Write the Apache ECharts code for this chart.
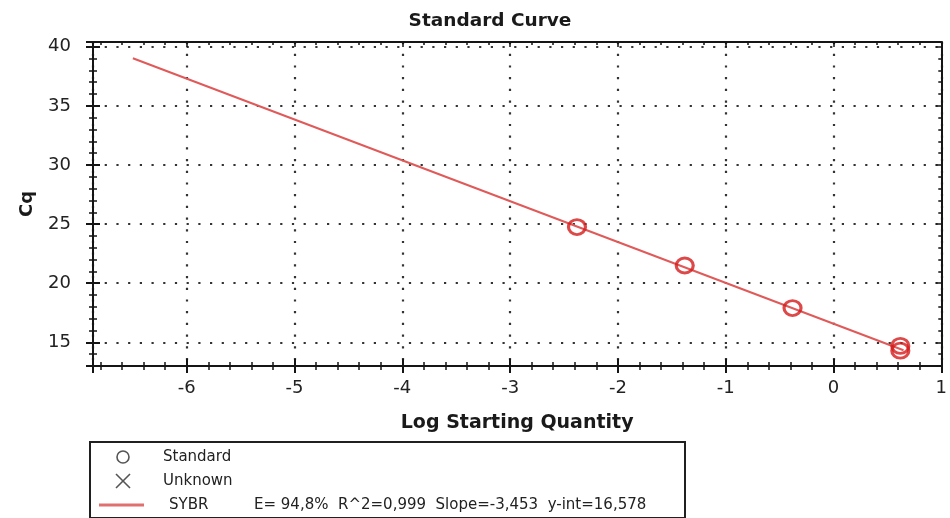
<!DOCTYPE html>
<html>
<head>
<meta charset="utf-8">
<title>Standard Curve</title>
<script src="https://cdn.jsdelivr.net/npm/echarts@6/dist/echarts.min.js"></script>
<style>
  html, body { margin: 0; padding: 0; background: #ffffff; }
  #chart { width: 950px; height: 518px; }
</style>
</head>
<body>
<div id="chart"></div>
<script>
// Standards: log starting quantity vs. Cq
const stdLogQty = [-2.38, -1.38, -0.38, 0.62, 0.62];
const stdCq = [24.75, 21.5, 17.9, 14.7, 14.3];

// Fit parameters of the SYBR standard curve
const fitSlope = -3.453;
const fitIntercept = 16.578;
const fitEfficiency = '94,8';
const fitR2 = '0,999';
const fitXRange = [-6.5, 0.65];

// Axis extents
const xRange = [-6.87, 1];
const yRange = [13, 40.4];

const fitLine = fitXRange.map(x => [x, fitIntercept + fitSlope * x]);
const stdPoints = stdLogQty.map((x, i) => [x, stdCq[i]]);

const FONT = 'DejaVu Sans';
const AXIS_COLOR = '#151515';
const RED = '#d41c1c';

const isWhole = v => Math.abs(v - Math.round(v)) < 1e-6;

function baseAxis(range, split) {
  return {
    type: 'value',
    min: range[0],
    max: range[1],
    splitNumber: split,
    axisLine: { show: false, onZero: false },
    axisTick: { show: false },
    minorTick: { show: false },
    axisLabel: { show: false },
    splitLine: { show: false },
    minorSplitLine: { show: false }
  };
}

const frameLine = { show: true, onZero: false, lineStyle: { color: AXIS_COLOR, width: 2 } };
const tickLine = { color: AXIS_COLOR, width: 2 };
const minorLine = { color: AXIS_COLOR, width: 1.5 };
const dotted = { color: '#333333', width: 2.2, type: [2.2, 9.5] };

const chart = echarts.init(document.getElementById('chart'), null, { renderer: 'canvas' });

chart.setOption({
  animation: false,
  backgroundColor: '#ffffff',
  title: {
    text: 'Standard Curve',
    left: 485,
    top: 7,
    textAlign: 'center',
    textStyle: { fontFamily: FONT, fontWeight: 'bold', fontSize: 18.5, color: '#1a1a1a' }
  },
  grid: { left: 93, right: 3, top: 42, bottom: 152 },
  xAxis: [
    Object.assign(baseAxis(xRange, 8), {
      position: 'bottom',
      axisLine: frameLine,
      axisTick: { show: true, inside: false, length: 7, lineStyle: tickLine },
      minorTick: { show: true, splitNumber: 5, length: 4, lineStyle: minorLine },
      axisLabel: {
        show: true, margin: 13, fontFamily: FONT, fontSize: 18, color: '#222',
        formatter: v => (isWhole(v) ? String(Math.round(v)) : '')
      },
      splitLine: { show: true, lineStyle: dotted },
      name: 'Log Starting Quantity',
      nameLocation: 'middle',
      nameGap: 48,
      nameTextStyle: { fontFamily: FONT, fontWeight: 'bold', fontSize: 19, color: '#1a1a1a' }
    }),
    Object.assign(baseAxis(xRange, 8), {
      position: 'bottom',
      axisTick: { show: true, inside: true, length: 7, lineStyle: tickLine },
      minorTick: { show: true, splitNumber: 5, length: 4, lineStyle: minorLine }
    }),
    Object.assign(baseAxis(xRange, 8), {
      position: 'top',
      axisLine: frameLine,
      axisTick: { show: true, inside: true, length: 5, lineStyle: minorLine },
      minorTick: { show: true, splitNumber: 5, length: 3, lineStyle: minorLine }
    })
  ],
  yAxis: [
    Object.assign(baseAxis(yRange, 5), {
      position: 'left',
      axisLine: frameLine,
      axisTick: { show: true, inside: false, length: 7, lineStyle: tickLine },
      minorTick: { show: true, splitNumber: 5, length: 4, lineStyle: minorLine },
      axisLabel: {
        show: true, margin: 22, fontFamily: FONT, fontSize: 18, color: '#222',
        formatter: v => (isWhole(v) && Math.round(v) % 5 === 0 ? String(Math.round(v)) : '')
      },
      splitLine: { show: true, lineStyle: dotted },
      name: 'Cq',
      nameLocation: 'middle',
      nameRotate: 90,
      nameGap: 57,
      nameTextStyle: { fontFamily: FONT, fontWeight: 'bold', fontSize: 18, color: '#1a1a1a' }
    }),
    Object.assign(baseAxis(yRange, 5), {
      position: 'left',
      axisTick: { show: true, inside: true, length: 7, lineStyle: tickLine },
      minorTick: { show: true, splitNumber: 5, length: 4, lineStyle: minorLine }
    }),
    Object.assign(baseAxis(yRange, 5), {
      position: 'right',
      axisLine: frameLine,
      axisTick: { show: true, inside: true, length: 5, lineStyle: minorLine },
      minorTick: { show: true, splitNumber: 5, length: 3, lineStyle: minorLine }
    })
  ],
  series: [
    {
      name: 'SYBR',
      type: 'line',
      xAxisIndex: 0,
      yAxisIndex: 0,
      data: fitLine,
      symbol: 'none',
      lineStyle: { color: '#e05a5a', width: 2 },
      z: 3
    },
    {
      name: 'Standard',
      type: 'scatter',
      xAxisIndex: 0,
      yAxisIndex: 0,
      data: stdPoints,
      symbol: 'circle',
      symbolSize: [17, 15],
      itemStyle: { color: 'rgba(255,255,255,0)', borderColor: RED, borderWidth: 3 },
      z: 4
    }
  ],
  graphic: [
    {
      type: 'group',
      left: 89,
      top: 441,
      children: [
        {
          type: 'rect',
          shape: { x: 0, y: 0, width: 595, height: 76 },
          style: { fill: '#ffffff', stroke: '#202020', lineWidth: 2 }
        },
        {
          type: 'circle',
          shape: { cx: 33, cy: 15, r: 6 },
          style: { fill: 'none', stroke: '#555', lineWidth: 1.6 }
        },
        {
          type: 'line',
          shape: { x1: 26, y1: 32, x2: 40, y2: 46 },
          style: { stroke: '#555', lineWidth: 1.6 }
        },
        {
          type: 'line',
          shape: { x1: 40, y1: 32, x2: 26, y2: 46 },
          style: { stroke: '#555', lineWidth: 1.6 }
        },
        {
          type: 'line',
          shape: { x1: 9, y1: 63, x2: 54, y2: 63 },
          style: { stroke: '#e07070', lineWidth: 3 }
        },
        {
          type: 'text',
          x: 73, y: 15,
          style: { text: 'Standard', fontFamily: FONT, fontSize: 15, fill: '#222', verticalAlign: 'middle' }
        },
        {
          type: 'text',
          x: 73, y: 39,
          style: { text: 'Unknown', fontFamily: FONT, fontSize: 15, fill: '#222', verticalAlign: 'middle' }
        },
        {
          type: 'text',
          x: 79, y: 63,
          style: { text: 'SYBR', fontFamily: FONT, fontSize: 15, fill: '#222', verticalAlign: 'middle' }
        },
        {
          type: 'text',
          x: 164, y: 63,
          style: {
            text: 'E= ' + fitEfficiency + '%  R^2=' + fitR2 +
                  '  Slope=' + String(fitSlope).replace('.', ',') +
                  '  y-int=' + String(fitIntercept).replace('.', ','),
            fontFamily: FONT, fontSize: 15, fill: '#222', verticalAlign: 'middle'
          }
        }
      ]
    }
  ]
});
</script>
</body>
</html>
